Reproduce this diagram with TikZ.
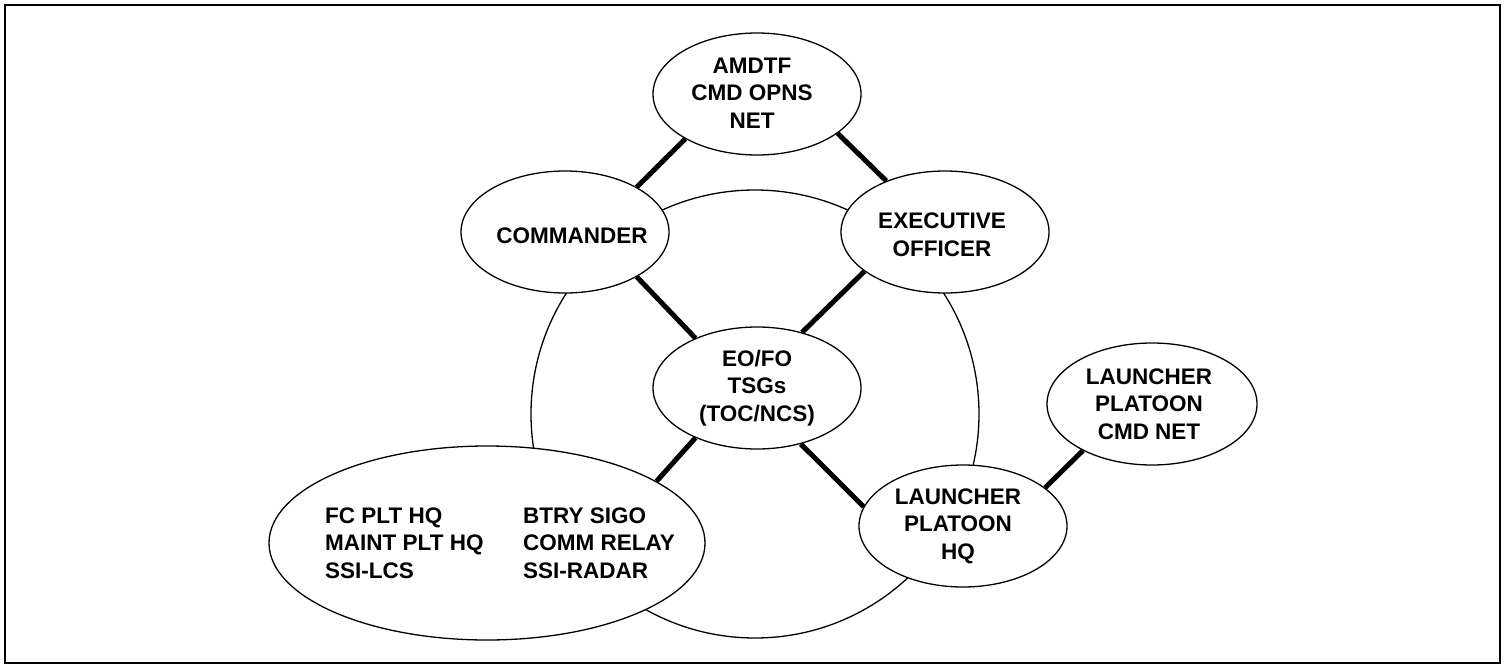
\documentclass[tikz,border=0pt]{standalone}
\usepackage{fontspec}
\setmainfont{Liberation Sans}
\usetikzlibrary{shapes.geometric}
\begin{document}
\begin{tikzpicture}[x=1pt,y=-1pt,
  ell/.style={draw, ellipse, fill=white, line width=1.3pt, inner sep=0pt,
              minimum width=208pt, minimum height=122pt},
  txt/.style={font=\bfseries\fontsize{22.5}{27.5}\selectfont, align=center, inner sep=0pt},
  coltxt/.style={font=\bfseries\fontsize{22.5}{27.5}\selectfont, align=left, inner sep=0pt, anchor=west},
  link/.style={line width=5pt},
  ring/.style={line width=1.3pt},
  frame/.style={line width=2.5pt}]
\useasboundingbox (0,0) rectangle (1504,666);
\draw[frame] (5,5) rectangle (1500,663);
% background loop
\draw[ring] (755,414) circle [radius=224pt];
% ellipses
\node[ell] (amdtf) at (757,94) {};
\node[ell] (cmdr) at (565,232) {};
\node[ell] (xo) at (945,232) {};
\node[ell] (eofo) at (757,388) {};
\node[ell] (lphq) at (963,526) {};
\node[ell, minimum width=210pt] (lcmd) at (1152,404) {};
\node[ell, minimum width=436pt, minimum height=194pt] (btry) at (487,543) {};
% texts
\node[txt] (amdtft) at (752,93) {AMDTF\\CMD OPNS\\NET};
\node[txt] (cmdrt) at (572,236) {COMMANDER};
\node[txt] (xot) at (942,235) {EXECUTIVE\\OFFICER};
\node[txt] (eofot) at (757,388) {EO/FO\\TSGs\\(TOC/NCS)};
\node[txt] (lphqt) at (958,526) {LAUNCHER\\PLATOON\\HQ};
\node[txt] (lcmdt) at (1149,404) {LAUNCHER\\PLATOON\\CMD NET};
\node[coltxt] (btryl) at (325,543) {FC PLT HQ\\MAINT PLT HQ\\SSI-LCS};
\node[coltxt] (btryr) at (523,543) {BTRY SIGO\\COMM RELAY\\SSI-RADAR};
% links
\draw[link] (amdtf.212.6) -- (cmdr.32);
\draw[link] (amdtf.334.6) -- (xo.139.2);
\draw[link] (cmdr.328) -- (eofo.141.1);
\draw[link] (xo.206) -- (eofo.51.2);
\draw[link] (eofo.219.9) -- (btry.20.7);
\draw[link] (eofo.308) -- (lphq.169.3);
\draw[link] (lphq.25.2) -- (lcmd.214.4);
\end{tikzpicture}
\end{document}
